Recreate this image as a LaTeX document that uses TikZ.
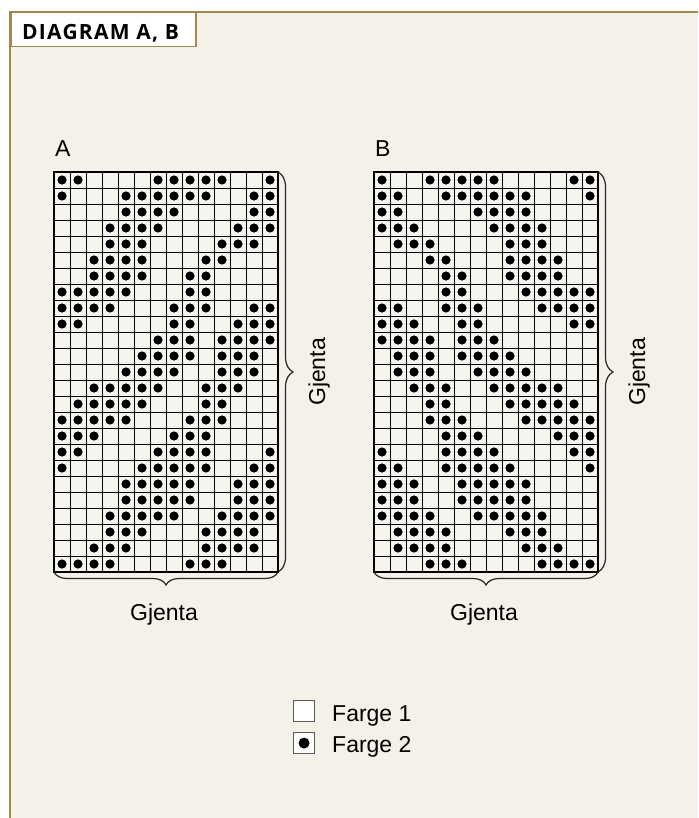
\documentclass[tikz,border=0pt]{standalone}
\usepackage{fontspec}
\setmainfont{Liberation Sans}
\newfontfamily\headfont{Open Sans}[LetterSpace=6]
\usetikzlibrary{decorations.pathreplacing}
\definecolor{gold}{HTML}{A08B4C}
\definecolor{cream}{HTML}{F4F1E9}
\definecolor{cellbg}{HTML}{F6F4EE}
\newcommand\dotrow[3]{\foreach \c in {#3}{\fill (#1+\c*16-8, 172+#2*16-8) circle[radius=4.6pt];}}
\newcommand\knitgrid[1]{%
  \fill[cellbg] (#1,172) rectangle (#1+224,572);
  \foreach \i in {1,...,13} {\draw[gridline] (#1+\i*16,172) -- (#1+\i*16,572);}
  \foreach \j in {1,...,24} {\draw[gridline] (#1,172+\j*16) -- (#1+224,172+\j*16);}
  \draw[gridframe] (#1,172) rectangle (#1+224,572);
}
\tikzset{
  gridline/.style={line width=0.9pt, black},
  gridframe/.style={line width=2.4pt, black},
  bracestyle/.style={decorate, line width=1.2pt, black!85},
  lbl/.style={font=\fontsize{23}{27}\selectfont, inner sep=0pt},
  legbox/.style={draw=black!65, line width=1.1pt, fill=white},
}
\begin{document}
\begin{tikzpicture}[x=1pt,y=-1pt]
\useasboundingbox (0,0) rectangle (698,818);
\fill[white] (0,0) rectangle (698,818);
\fill[cream] (10,12) rectangle (698,818);
\draw[gold, line width=1.4pt] (10,818) -- (10,12) -- (698,12);
\node[draw=gold, line width=1.5pt, fill=white, minimum width=185pt, minimum height=34pt, inner sep=0pt, anchor=north west] (hdr) at (10,12) {};
\node[anchor=base west, inner sep=0pt, font=\headfont\bfseries\fontsize{21}{25}\selectfont] (hdrtxt) at (22,39.3) {DIAGRAM A, B};

% Grid A
\knitgrid{54}
\dotrow{54}{1}{1,2,7,8,9,10,11,14}
\dotrow{54}{2}{1,5,6,7,8,9,10,13,14}
\dotrow{54}{3}{5,6,7,8,13,14}
\dotrow{54}{4}{4,5,6,7,12,13,14}
\dotrow{54}{5}{4,5,6,11,12,13}
\dotrow{54}{6}{3,4,5,6,10,11}
\dotrow{54}{7}{3,4,5,6,9,10}
\dotrow{54}{8}{1,2,3,4,5,9,10}
\dotrow{54}{9}{1,2,3,4,8,9,10,13,14}
\dotrow{54}{10}{1,2,8,9,12,13,14}
\dotrow{54}{11}{7,8,9,11,12,13,14}
\dotrow{54}{12}{6,7,8,9,11,12,13}
\dotrow{54}{13}{5,6,7,8,11,12,13}
\dotrow{54}{14}{3,4,5,6,7,10,11,12}
\dotrow{54}{15}{2,3,4,5,6,10,11}
\dotrow{54}{16}{1,2,3,4,5,9,10,11}
\dotrow{54}{17}{1,2,3,8,9,10}
\dotrow{54}{18}{1,2,7,8,9,10,14}
\dotrow{54}{19}{1,6,7,8,9,10,13,14}
\dotrow{54}{20}{5,6,7,8,9,12,13,14}
\dotrow{54}{21}{5,6,7,8,9,12,13,14}
\dotrow{54}{22}{4,5,6,7,8,11,12,13,14}
\dotrow{54}{23}{4,5,6,10,11,12,13}
\dotrow{54}{24}{3,4,5,10,11,12,13}
\dotrow{54}{25}{1,2,3,4,9,10,11}

% Grid B
\knitgrid{374}
\dotrow{374}{1}{1,4,5,6,7,8,13,14}
\dotrow{374}{2}{1,2,5,6,7,8,9,10,14}
\dotrow{374}{3}{1,2,7,8,9,10}
\dotrow{374}{4}{1,2,3,8,9,10,11}
\dotrow{374}{5}{2,3,4,9,10,11}
\dotrow{374}{6}{4,5,9,10,11,12}
\dotrow{374}{7}{5,6,9,10,11,12}
\dotrow{374}{8}{5,6,10,11,12,13,14}
\dotrow{374}{9}{1,2,5,6,7,11,12,13,14}
\dotrow{374}{10}{1,2,3,6,7,13,14}
\dotrow{374}{11}{1,2,3,4,6,7,8}
\dotrow{374}{12}{2,3,4,6,7,8,9}
\dotrow{374}{13}{2,3,4,7,8,9,10}
\dotrow{374}{14}{3,4,5,8,9,10,11,12}
\dotrow{374}{15}{4,5,9,10,11,12,13}
\dotrow{374}{16}{4,5,6,10,11,12,13,14}
\dotrow{374}{17}{5,6,7,12,13,14}
\dotrow{374}{18}{1,5,6,7,8,13,14}
\dotrow{374}{19}{1,2,5,6,7,8,9,14}
\dotrow{374}{20}{1,2,3,6,7,8,9,10}
\dotrow{374}{21}{1,2,3,6,7,8,9,10}
\dotrow{374}{22}{1,2,3,4,7,8,9,10,11}
\dotrow{374}{23}{2,3,4,5,9,10,11}
\dotrow{374}{24}{2,3,4,5,10,11,12}
\dotrow{374}{25}{4,5,6,11,12,13,14}

% corners
\coordinate (Atr) at (278,172);
\coordinate (Abr) at (278,572);
\coordinate (Abl) at (54,572);
\coordinate (Btr) at (598,172);
\coordinate (Bbr) at (598,572);
\coordinate (Bbl) at (374,572);

% braces
\draw[bracestyle, decoration={brace, amplitude=15pt}] (Atr) -- (Abr);
\draw[bracestyle, decoration={brace, amplitude=13pt}] (Abr) -- (Abl);
\draw[bracestyle, decoration={brace, amplitude=15pt}] (Btr) -- (Bbr);
\draw[bracestyle, decoration={brace, amplitude=13pt}] (Bbr) -- (Bbl);

% labels
\node[lbl, anchor=base west] (labA) at (55,157) {A};
\node[lbl, anchor=base west] (labB) at (375,157) {B};
\node[lbl, anchor=base] (gAb) at (164,620) {Gjenta};
\node[lbl, anchor=base] (gBb) at (484,620) {Gjenta};
\node[lbl, anchor=base, rotate=90] (gAr) at (325,372) {Gjenta};
\node[lbl, anchor=base, rotate=90] (gBr) at (645,372) {Gjenta};

% legend
\node[legbox, minimum width=21pt, minimum height=21pt, inner sep=0pt, anchor=north west] (leg1) at (293,700) {};
\node[legbox, minimum width=21pt, minimum height=21pt, inner sep=0pt, anchor=north west] (leg2) at (293,732) {};
\fill (leg2.center) circle[radius=5.5pt];
\node[lbl, anchor=base west] (leg1t) at (332,721) {Farge 1};
\node[lbl, anchor=base west] (leg2t) at (332,752) {Farge 2};
\end{tikzpicture}
\end{document}
